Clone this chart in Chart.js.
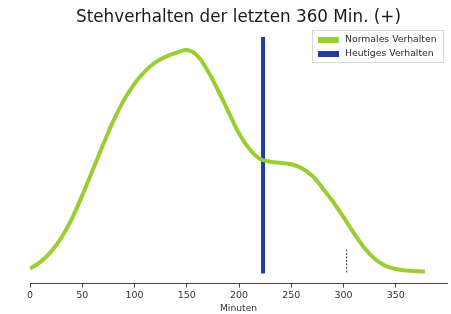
<!doctype html>
<html>

<head>
  <meta charset="UTF-8">
  <script src="https://cdn.jsdelivr.net/npm/chart.js"></script>
  <style>
    html, body { margin: 0; padding: 0; background: #fff; }
    #wrap { width: 451px; height: 314px; }
  </style>
</head>

<body>
  <div id="wrap"><canvas id="standChart"></canvas></div>
</body>

<script>
  // data
  const minutes = [0, 10, 20, 30, 40, 50, 60, 70, 80, 90, 100, 110, 120, 130, 140, 150, 160, 170, 180, 190,
    200, 210, 220, 230, 240, 250, 260, 270, 280, 290, 300, 310, 320, 330, 340, 350, 360, 370, 378];
  const normalValues = [0.022, 0.052, 0.097, 0.16, 0.245, 0.35, 0.463, 0.577, 0.685, 0.777, 0.85, 0.905, 0.945,
    0.97, 0.988, 1.0, 0.975, 0.907, 0.819, 0.722, 0.627, 0.557, 0.513, 0.5, 0.495, 0.489, 0.471, 0.4375,
    0.382, 0.321, 0.252, 0.18, 0.114, 0.065, 0.035, 0.02, 0.013, 0.010, 0.009];
  const currentMinute = [223, 223];
  const currentLevel = [0, 1.058];
  const markMinute = [303, 303];
  const markLevel = [0.005, 0.107];
  const tickValues = [0, 50, 100, 150, 200, 250, 300, 350];
  const seriesLabels = ['Normales Verhalten', 'Heutiges Verhalten'];

  const toPoints = (xs, ys) => xs.map((x, i) => ({ x: x, y: ys[i] }));

  // legend drawn as a box inside the plot, top right
  const boxLegend = {
    id: 'boxLegend',
    afterDraw(chart) {
      const ctx = chart.ctx;
      const x0 = 312, y0 = 30, w = 131, h = 32;
      ctx.save();
      ctx.fillStyle = 'rgba(255,255,255,0.85)';
      ctx.strokeStyle = '#d6d6d6';
      ctx.lineWidth = 1;
      ctx.fillRect(x0 + 0.5, y0 + 0.5, w, h);
      ctx.strokeRect(x0 + 0.5, y0 + 0.5, w, h);
      ctx.font = '9.3px "DejaVu Sans"';
      ctx.textBaseline = 'middle';
      [0, 1].forEach((i) => {
        const ds = chart.data.datasets[i];
        const cy = y0 + 10 + i * 14;
        ctx.fillStyle = ds.borderColor;
        ctx.fillRect(x0 + 6, cy - 3, 21, 6);
        ctx.fillStyle = '#2a2a2a';
        ctx.fillText(ds.label, x0 + 33, cy);
      });
      ctx.restore();
    }
  };

  const ctx = document.getElementById('standChart').getContext('2d');
  const standChart = new Chart(ctx, {
    type: 'line',
    data: {
      datasets: [{
        label: seriesLabels[0],
        data: toPoints(minutes, normalValues),
        borderColor: '#9acd32',
        borderWidth: 4,
        pointRadius: 0,
        tension: 0.4,
        fill: false
      }, {
        label: seriesLabels[1],
        data: toPoints(currentMinute, currentLevel),
        borderColor: '#213e94',
        borderWidth: 4,
        pointRadius: 0,
        fill: false
      }, {
        label: 'marker',
        data: toPoints(markMinute, markLevel),
        borderColor: '#333',
        borderWidth: 1,
        borderDash: [2, 1.5],
        pointRadius: 0,
        fill: false
      }]
    },
    options: {
      responsive: true,
      maintainAspectRatio: false,
      animation: false,
      layout: { padding: { left: 30, right: 4, top: 0, bottom: 0 } },
      plugins: {
        legend: { display: false },
        tooltip: { enabled: false },
        title: {
          display: true,
          text: 'Stehverhalten der letzten 360 Min. (+)',
          color: '#1a1a1a',
          font: { family: 'DejaVu Sans', size: 16.8, weight: 'normal' },
          padding: { top: 8, bottom: 0 }
        }
      },
      scales: {
        x: {
          type: 'linear',
          min: 0,
          max: 399,
          afterBuildTicks: (scale) => {
            scale.ticks = tickValues.map((v) => ({ value: v }));
          },
          border: { display: true, color: '#444', width: 1 },
          grid: { drawOnChartArea: false, drawTicks: true, tickLength: 4, color: '#444' },
          ticks: {
            padding: 2,
            color: '#333',
            font: { family: 'DejaVu Sans', size: 9.5 },
            maxRotation: 0
          },
          title: {
            display: true,
            text: 'Minuten',
            color: '#333',
            font: { family: 'DejaVu Sans', size: 9.2 },
            padding: { top: 0, bottom: 0 }
          }
        },
        y: {
          display: false,
          min: -0.045,
          max: 1.098
        }
      }
    },
    plugins: [boxLegend]
  });
</script>

</html>
